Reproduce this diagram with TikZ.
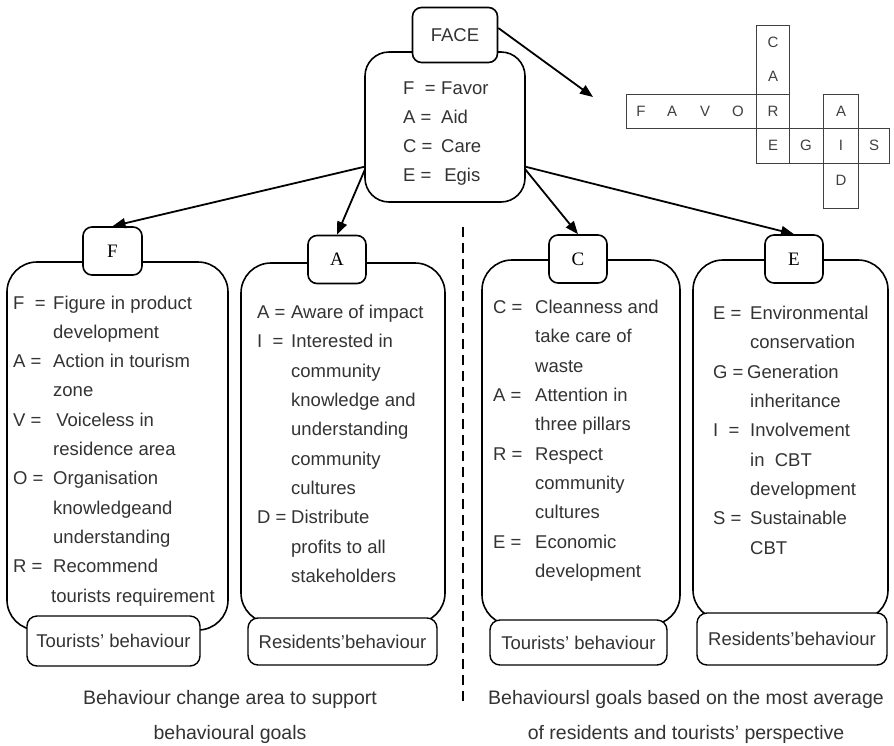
\documentclass[tikz,border=0pt]{standalone}
\usepackage{fontspec}
\setmainfont{Liberation Sans}
\newfontfamily\serifF{Liberation Serif}
\usetikzlibrary{arrows.meta,calc}
\definecolor{txt}{HTML}{333333}
\newlength\lw
\newcommand\Ln[2]{\makebox[\lw][l]{#1}#2\\}
\newcommand\bodyfont{\fontsize{18.5}{29.3}\selectfont}
\begin{document}
\begin{tikzpicture}[x=1pt,y=-1pt,
  bigbox/.style={draw, line width=1.6pt, rounded corners=30pt, fill=white, inner sep=0pt},
  letterbox/.style={draw, line width=1.6pt, rounded corners=9pt, fill=white, minimum width=58pt, minimum height=48pt, inner sep=0pt, font=\serifF\fontsize{19}{22}\selectfont, text=black},
  labelbox/.style={draw, line width=1.4pt, rounded corners=10pt, fill=white, inner sep=0pt, font=\bodyfont, text=txt},
  deftext/.style={anchor=base west, inner sep=0pt, font=\bodyfont, text=txt},
  conn/.style={line width=1.8pt, -{Triangle[length=13pt,width=10pt]}},
  cw/.style={line width=0.9pt, draw=black!75},
  cwl/.style={font=\fontsize{15}{18}\selectfont, text=black!75, inner sep=0pt},
  note/.style={font=\fontsize{19.5}{24}\selectfont, text=txt, inner sep=0pt, anchor=base},
  divider/.style={line width=1.8pt, dash pattern=on 10pt off 6pt}
]
\fill[white] (0,0) rectangle (894,745);
\useasboundingbox (0,0) rectangle (894,745);

% ---- top FACE boxes
\node[bigbox, rounded corners=24pt, minimum width=160pt, minimum height=150pt] (facebig) at (445,127) {};
\node[letterbox, font=\fontsize{18.5}{22}\selectfont, text=txt, minimum width=85pt, minimum height=55pt] (face) at (455,35) {FACE};
\setlength\lw{38pt}
\node[deftext] (facetxt) at (403,94) {\begin{tabular}[t]{@{}l@{}}
\Ln{F\ \ =}{Favor}
\Ln{A =}{Aid}
\Ln{C =}{Care}
\Ln{E =}{\,Egis}
\end{tabular}};

% ---- big boxes
\node[bigbox, minimum width=221pt, minimum height=368pt] (b1) at (117.5,446) {};
\node[bigbox, minimum width=204pt, minimum height=360pt] (b2) at (343,443) {};
\node[bigbox, minimum width=198pt, minimum height=365pt] (b3) at (581,442.5) {};
\node[bigbox, minimum width=195pt, minimum height=360pt] (b4) at (790.5,440) {};

% ---- letter boxes
\node[letterbox, minimum width=59pt] (bF) at (112.5,251) {F};
\node[letterbox] (bA) at (337,259.5) {A};
\node[letterbox] (bC) at (578,259) {C};
\node[letterbox] (bE) at (794,259) {E};

% ---- label boxes
\node[labelbox, minimum width=173pt, minimum height=50pt] (l1) at (113.5,641) {Tourists' behaviour};
\node[labelbox, minimum width=189pt, minimum height=47pt] (l2) at (342.5,641.5) {Residents'behaviour};
\node[labelbox, minimum width=177pt, minimum height=45pt] (l3) at (578.5,642.5) {Tourists' behaviour};
\node[labelbox, minimum width=190pt, minimum height=52pt] (l4) at (792,639) {Residents'behaviour};

% ---- definitions
\setlength\lw{40pt}
\node[deftext] (t1) at (13,309) {\begin{tabular}[t]{@{}l@{}}
\Ln{F\ \ =}{Figure in product}
\Ln{}{development}
\Ln{A =}{Action in tourism}
\Ln{}{zone}
\Ln{V =}{\,Voiceless in}
\Ln{}{residence area}
\Ln{O =}{Organisation}
\Ln{}{knowledgeand}
\Ln{}{understanding}
\Ln{R =}{Recommend}
\Ln{}{\hspace{-2pt}tourists requirement}
\end{tabular}};
\setlength\lw{34pt}
\node[deftext] (t2) at (257,318.6) {\begin{tabular}[t]{@{}l@{}}
\Ln{A =}{Aware of impact}
\Ln{I\ \ =}{Interested in}
\Ln{}{community}
\Ln{}{knowledge and}
\Ln{}{understanding}
\Ln{}{community}
\Ln{}{cultures}
\Ln{D =}{Distribute}
\Ln{}{profits to all}
\Ln{}{stakeholders}
\end{tabular}};
\setlength\lw{42pt}
\node[deftext] (t3) at (493,313.6) {\begin{tabular}[t]{@{}l@{}}
\Ln{C =}{Cleanness and}
\Ln{}{take care of}
\Ln{}{waste}
\Ln{A =}{Attention in}
\Ln{}{three pillars}
\Ln{R =}{Respect}
\Ln{}{community}
\Ln{}{cultures}
\Ln{E =}{Economic}
\Ln{}{development}
\end{tabular}};
\setlength\lw{37pt}
\node[deftext] (t4) at (713,319.6) {\begin{tabular}[t]{@{}l@{}}
\Ln{E =}{Environmental}
\Ln{}{conservation}
\Ln{G =}{\hspace{-3pt}Generation}
\Ln{}{inheritance}
\Ln{I\ \ =}{Involvement}
\Ln{}{in\ \ CBT}
\Ln{}{development}
\Ln{S =}{Sustainable}
\Ln{}{CBT}
\end{tabular}};

% ---- connectors
\draw[conn] ([yshift=36pt]facebig.south west) -- (bF.north);
\draw[conn] ([yshift=34pt,xshift=1pt]facebig.south west) -- (bA.north);
\draw[conn] ([yshift=34pt,xshift=-1pt]facebig.south east) -- (bC.north);
\draw[conn] ([yshift=36pt]facebig.south east) -- (bE.north);
\coordinate (cwtip) at (593,97);
\draw[conn] ([yshift=7pt]face.east) -- (cwtip);

% ---- crossword
\draw[cw] (756,25) rectangle (789,94);
\draw[cw] (626,94) rectangle (756,128);
\draw[cw] (756,94) rectangle (789,128);
\draw[cw] (756,128) rectangle (889,163);
\draw[cw] (789,128) -- (789,163) (823,128) -- (823,163) (858,128) -- (858,163);
\draw[cw] (823,94) rectangle (858,208);
\draw[cw] (823,128) -- (858,128) (823,163) -- (858,163);
\node[cwl] (cF) at (641,111) {F};
\node[cwl] (cA1) at (672,111) {A};
\node[cwl] (cV) at (705,111) {V};
\node[cwl] (cO) at (738,111) {O};
\node[cwl] (cR) at (773,111) {R};
\node[cwl] (cC) at (773,42) {C};
\node[cwl] (cA2) at (773,76) {A};
\node[cwl] (cE) at (773,145) {E};
\node[cwl] (cG) at (806,145) {G};
\node[cwl] (cI) at (841,145) {I};
\node[cwl] (cS) at (874,145) {S};
\node[cwl] (cA3) at (841,111) {A};
\node[cwl] (cD) at (841,180) {D};

% ---- divider and notes
\coordinate (dtop) at (463,227);
\coordinate (dbot) at (463,706);
\draw[divider] (dtop) -- (dbot);
\node[note] (n1a) at (230,704) {Behaviour change area to support};
\node[note] (n1b) at (230,739) {behavioural goals};
\node[note] (n2a) at (686,704) {Behavioursl goals based on the most average};
\node[note] (n2b) at (686,739) {of residents and tourists' perspective};
\end{tikzpicture}
\end{document}
